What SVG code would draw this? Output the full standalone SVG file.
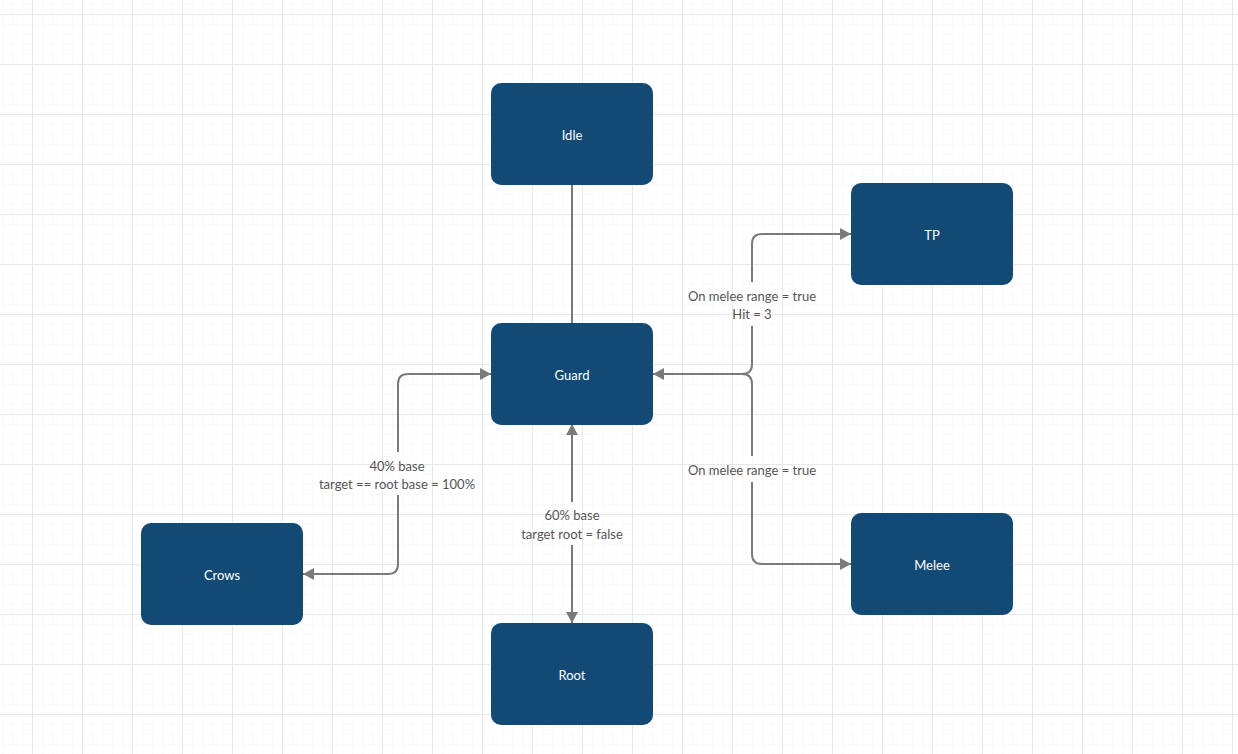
<svg xmlns="http://www.w3.org/2000/svg" width="1238" height="754" viewBox="0 0 1238 754">
<style>
.node rect{fill:#134a75}
.node text{fill:#ffffff;font-family:Lato,"Liberation Sans",sans-serif;font-size:13px;text-anchor:middle;dominant-baseline:central}
.conn path{fill:none;stroke:#7a7a7a;stroke-width:2}
.lbl{fill:#555555;font-family:Lato,"Liberation Sans",sans-serif;font-size:13px;text-anchor:middle;dominant-baseline:central}
</style>
<defs>
<pattern id="minor" x="2" y="4" width="10" height="10" patternUnits="userSpaceOnUse">
<path d="M0 0H10M0 0V10" fill="none" stroke="#f5f5f5" stroke-width="1.2"/>
</pattern>
<pattern id="major" x="32" y="14" width="50" height="50" patternUnits="userSpaceOnUse">
<path d="M0 0H50M0 0V50" fill="none" stroke="#e8e8e8" stroke-width="2"/>
</pattern>
<marker id="arr" markerWidth="12" markerHeight="12" refX="11" refY="6" orient="auto-start-reverse" markerUnits="userSpaceOnUse">
<path d="M0 0L11 6L0 12Z" fill="#7a7a7a"/>
</marker>
</defs>
<rect width="1238" height="754" fill="#ffffff"/>
<rect width="1238" height="754" fill="url(#minor)"/>
<rect width="1238" height="754" fill="url(#major)"/>
<g id="connectors" class="conn">
<path d="M572 185V323"/>
<path d="M653 374H742Q752 374 752 364V326" marker-start="url(#arr)"/>
<path d="M752 282V244Q752 234 762 234H851" marker-end="url(#arr)"/>
<path d="M742 374Q752 374 752 384V456"/>
<path d="M752 482V554Q752 564 762 564H851" marker-end="url(#arr)"/>
<path d="M491 374H408Q398 374 398 384V452" marker-start="url(#arr)"/>
<path d="M398 495V564Q398 574 388 574H303" marker-end="url(#arr)"/>
<path d="M572 424V502" marker-start="url(#arr)"/>
<path d="M572 545V623" marker-end="url(#arr)"/>
<text class="lbl" x="752" y="296">On melee range = true</text>
<text class="lbl" x="752" y="314">Hit = 3</text>
<text class="lbl" x="752" y="470">On melee range = true</text>
<text class="lbl" x="397" y="466">40% base</text>
<text class="lbl" x="397" y="484">target == root base = 100%</text>
<text class="lbl" x="572" y="515">60% base</text>
<text class="lbl" x="572" y="534">target root = false</text>
</g>
<g id="idle" class="node"><rect x="491" y="83" width="162" height="102" rx="10"/><text x="572" y="135">Idle</text></g>
<g id="tp" class="node"><rect x="851" y="183" width="162" height="102" rx="10"/><text x="932" y="235">TP</text></g>
<g id="guard" class="node"><rect x="491" y="323" width="162" height="102" rx="10"/><text x="572" y="375">Guard</text></g>
<g id="crows" class="node"><rect x="141" y="523" width="162" height="102" rx="10"/><text x="222" y="575">Crows</text></g>
<g id="melee" class="node"><rect x="851" y="513" width="162" height="102" rx="10"/><text x="932" y="565">Melee</text></g>
<g id="root" class="node"><rect x="491" y="623" width="162" height="102" rx="10"/><text x="572" y="675">Root</text></g>
</svg>
